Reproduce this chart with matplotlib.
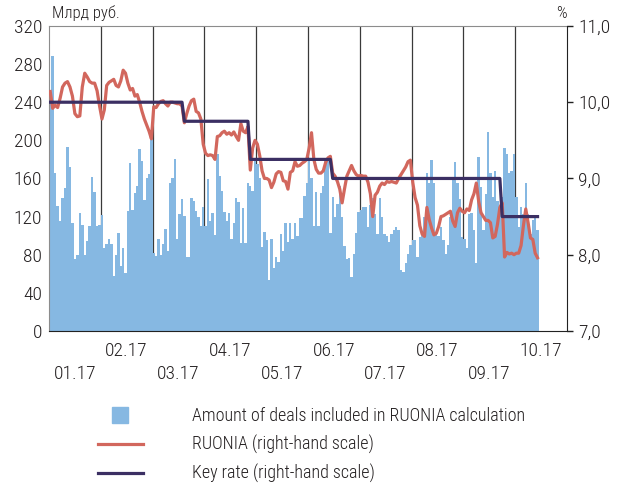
import numpy as np
import matplotlib
matplotlib.use("Agg")
import matplotlib.pyplot as plt
from matplotlib.lines import Line2D
from matplotlib.ticker import FuncFormatter, MultipleLocator

plt.rcParams["font.family"] = ["Roboto Condensed", "DejaVu Sans"]
plt.rcParams["font.weight"] = "light"

months = ["01.17", "02.17", "03.17", "04.17", "05.17",
          "06.17", "07.17", "08.17", "09.17", "10.17"]
# business days with data / business-day slots of each month
days_per_month = [21, 22, 22, 22, 22, 22, 22, 22, 22, 10]
slots_per_month = [21, 22, 22, 22, 22, 22, 22, 22, 22, 22]

# amount of deals, bn rub (one value per business day)
deals = [
    245, 288, 166, 131, 115, 139, 150, 193, 172, 113, 76, 80, 124, 111, 80, 94, 110, 162, 146, 110, 111,
    122, 87, 91, 96, 91, 58, 80, 103, 68, 87, 61, 126, 176, 127, 145, 152, 191, 178, 137, 161, 165, 202,
    82, 79, 96, 80, 91, 107, 84, 155, 160, 180, 96, 123, 138, 121, 78, 78, 139, 136, 126, 120, 110, 130,
    110, 159, 115, 124, 101, 186, 163, 147, 125, 115, 124, 97, 113, 140, 135, 92, 129, 92, 155, 152, 147, 178,
    175, 160, 88, 104, 95, 53, 97, 66, 78, 72, 102, 84, 113, 93, 113, 97, 113, 100, 118, 119, 142, 155,
    180, 160, 110, 146, 110, 145, 152, 178, 178, 103, 141, 120, 133, 152, 120, 89, 75, 77, 57, 81, 103, 125,
    127, 130, 130, 109, 132, 139, 123, 102, 139, 120, 102, 100, 93, 102, 106, 109, 106, 64, 62, 71, 81, 90,
    95, 95, 78, 99, 102, 120, 166, 155, 179, 155, 102, 100, 109, 95, 81, 90, 120, 158, 177, 155, 138, 99,
    97, 87, 123, 124, 106, 71, 183, 151, 106, 144, 209, 166, 141, 168, 136, 130, 141, 192, 186, 166, 168, 186,
    141, 109, 130, 123, 155, 123, 102, 116, 120, 106,
]

# RUONIA, %
ruonia = [
    10.14, 9.92, 9.96, 9.93, 10.05, 10.20, 10.25, 10.27, 10.20, 10.08, 9.85, 9.81, 9.82, 10.20, 10.38, 10.33, 10.27, 10.25, 10.25, 10.15, 9.95,
    9.78, 9.90, 10.22, 10.26, 10.28, 10.30, 10.22, 10.20, 10.28, 10.42, 10.38, 10.25, 10.16, 10.18, 10.08, 10.10, 10.00, 9.88, 9.78, 9.70, 9.62, 9.52,
    9.94, 9.93, 9.98, 10.01, 10.02, 9.98, 9.95, 10.00, 10.00, 9.99, 9.98, 9.98, 9.95, 9.73, 9.85, 9.95, 10.02, 10.04, 9.88, 9.86, 9.78, 9.45,
    9.33, 9.30, 9.31, 9.30, 9.25, 9.55, 9.56, 9.60, 9.62, 9.58, 9.60, 9.57, 9.61, 9.55, 9.50, 9.72, 9.62, 9.60, 9.68, 9.11, 9.40, 9.50,
    9.45, 9.30, 9.10, 9.00, 9.00, 8.98, 8.88, 8.95, 9.06, 9.09, 9.08, 8.97, 8.96, 8.86, 9.08, 9.10, 9.22, 9.16, 9.17, 9.20, 9.22, 9.25,
    9.40, 9.60, 9.25, 9.12, 9.07, 9.07, 9.10, 9.21, 9.27, 9.29, 9.07, 9.03, 8.96, 8.86, 8.68, 8.86, 9.03, 9.10, 9.17, 9.10, 9.05, 9.03,
    9.04, 9.03, 9.03, 8.95, 8.80, 8.50, 8.78, 8.82, 8.90, 8.94, 8.92, 8.96, 8.95, 8.96, 8.95, 8.94, 9.00, 9.05, 9.10, 9.15, 9.22, 9.24,
    8.95, 8.75, 8.65, 8.38, 8.27, 8.24, 8.62, 8.46, 8.35, 8.26, 8.28, 8.37, 8.50, 8.51, 8.53, 8.55, 8.57, 8.44, 8.37, 8.55, 8.61, 8.57,
    8.55, 8.60, 8.58, 8.72, 8.80, 8.94, 8.70, 8.55, 8.50, 8.45, 8.45, 8.42, 8.22, 8.24, 8.40, 8.62, 8.68, 7.97, 8.03, 8.01, 8.02, 8.00,
    8.02, 8.02, 8.12, 8.38, 8.60, 8.42, 8.22, 8.20, 8.02, 7.96,
]

# key rate, % and number of business days at each level
key_rate_levels = [10.0, 9.75, 9.25, 9.0, 8.5]
key_rate_days = [56, 28, 35, 72, 16]

BAR_COLOR = "#86b8e2"
RUONIA_COLOR = "#d2675d"
KEY_COLOR = "#3b2f63"
TEXT_COLOR = "#231f20"
FS = 14
LEG_FS = 13

# x position of every business day: months get equal width
x = np.concatenate([m + (np.arange(n) + 0.5) / s
                    for m, (n, s) in enumerate(zip(days_per_month, slots_per_month))])
widths = np.concatenate([np.full(n, 1.0 / s) for n, s in zip(days_per_month, slots_per_month)])
key_rate = np.repeat(key_rate_levels, key_rate_days)

fig = plt.figure(figsize=(6.17, 4.86), dpi=100)
ax = fig.add_axes([0.0794, 0.319, 0.8395, 0.6276])
ax2 = ax.twinx()

ax.bar(x, deals, width=widths, color=BAR_COLOR, linewidth=0, zorder=2)
ax2.plot(x, ruonia, color=RUONIA_COLOR, lw=2.3, zorder=3)
ax2.plot(x, key_rate, color=KEY_COLOR, lw=2.3, zorder=4)

ax.set_xlim(0, len(months))
ax.set_ylim(0, 320)
ax.yaxis.set_major_locator(MultipleLocator(40))
ax2.set_ylim(7, 11)
ax2.yaxis.set_major_locator(MultipleLocator(1))
ax2.yaxis.set_major_formatter(FuncFormatter(lambda v, p: f"{v:.1f}".replace(".", ",")))

# month labels in two rows, separators between months
ax.set_xticks(np.arange(len(months)) + 0.5)
ax.set_xticklabels([lab if i % 2 else "\n" + lab for i, lab in enumerate(months)],
                   linespacing=1.35)
ax.set_xticks(np.arange(1, len(months)), minor=True)
ax.grid(which="minor", axis="x", color="#3a3a3a", lw=0.9, zorder=1)
ax.set_axisbelow(True)
ax.tick_params(axis="x", which="both", length=0, pad=8, labelsize=FS, colors=TEXT_COLOR)
ax.tick_params(axis="y", length=0, pad=5, labelsize=FS, colors=TEXT_COLOR)
ax2.tick_params(axis="y", length=4, width=1, pad=4, labelsize=FS, colors=TEXT_COLOR)
ax2.tick_params(axis="y", color="#222222")

for s in ["left", "top"]:
    ax.spines[s].set_color("#8c8c8c")
ax.spines["bottom"].set_color("#222222")
ax.spines["right"].set_visible(False)
ax2.spines["right"].set_color("#222222")
for s in ["left", "top", "bottom"]:
    ax2.spines[s].set_visible(False)

ax.text(0.006, 1.015, "Млрд руб.", transform=ax.transAxes, ha="left", va="bottom",
        fontsize=12, color=TEXT_COLOR)
ax2.text(1.0, 1.015, "%", transform=ax2.transAxes, ha="right", va="bottom",
         fontsize=12, color=TEXT_COLOR)

handles = [
    Line2D([], [], ls="none", marker="s", markersize=11, color=BAR_COLOR),
    Line2D([], [], color=RUONIA_COLOR, lw=2.3),
    Line2D([], [], color=KEY_COLOR, lw=2.3),
]
labels = ["Amount of deals included in RUONIA calculation",
          "RUONIA (right-hand scale)",
          "Key rate (right-hand scale)"]
fig.legend(handles, labels, loc="upper left", bbox_to_anchor=(0.1588, 0.1626),
           frameon=False, fontsize=LEG_FS, handlelength=2.49, handletextpad=2.7,
           labelspacing=0.56, borderpad=0, borderaxespad=0, labelcolor=TEXT_COLOR)

fig.savefig("out.png", dpi=100)
